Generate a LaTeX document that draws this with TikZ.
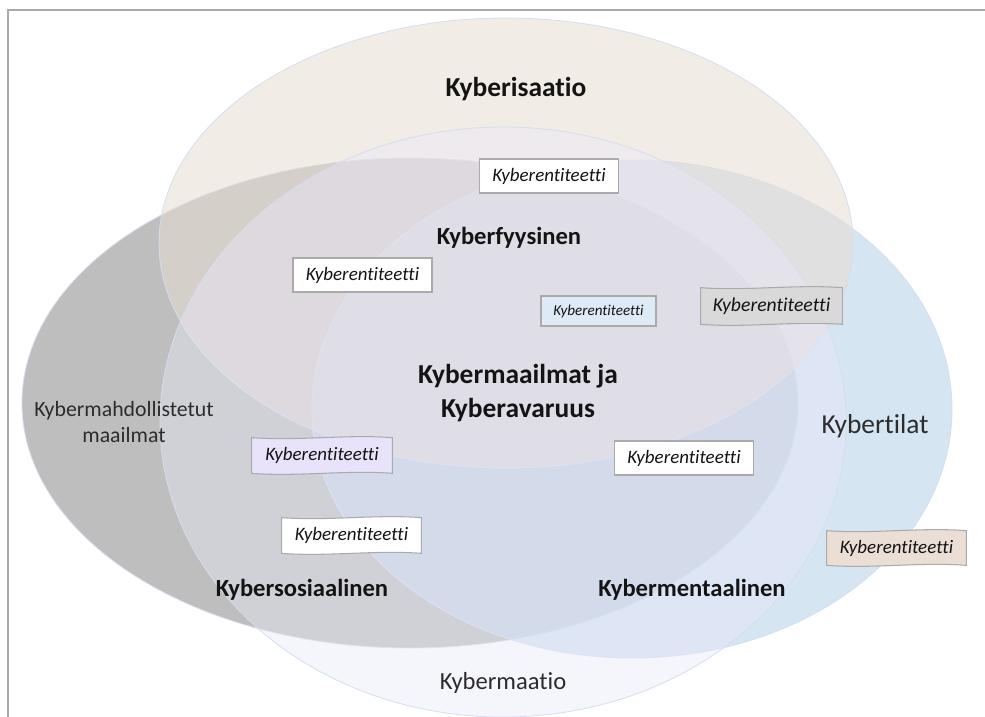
\documentclass[tikz,border=0pt]{standalone}
\usepackage{fontspec}
\setmainfont{Carlito}[Ligatures={NoCommon}]
\usetikzlibrary{calc}
\pgfdeclarelayer{back}
\pgfdeclarelayer{bg}
\pgfsetlayers{back,bg,main}
\definecolor{cA}{RGB}{233,221,210}
\definecolor{cB}{RGB}{190,190,190}
\definecolor{cC}{RGB}{198,219,238}
\definecolor{cD}{RGB}{234,232,250}
\definecolor{rim}{RGB}{212,222,240}
\definecolor{framec}{RGB}{170,170,170}
\definecolor{boxline}{RGB}{170,170,170}
\definecolor{fblue}{RGB}{222,235,247}
\definecolor{fgray}{RGB}{217,217,217}
\definecolor{fviolet}{RGB}{232,227,250}
\definecolor{ftan}{RGB}{234,222,213}
\definecolor{txt}{RGB}{20,20,20}
\newcommand{\wavebg}[2]{%
  \begin{pgfonlayer}{bg}
  \path[fill=#2, draw=boxline, line width=0.6pt]
    (#1.north west) .. controls ($(#1.north west)!0.33!(#1.north east)+(0,3.5)$) and ($(#1.north west)!0.67!(#1.north east)+(0,-3.5)$) .. (#1.north east)
    -- (#1.south east) .. controls ($(#1.south west)!0.67!(#1.south east)+(0,-3.5)$) and ($(#1.south west)!0.33!(#1.south east)+(0,3.5)$) .. (#1.south west)
    -- cycle;
  \end{pgfonlayer}}
\begin{document}
\begin{tikzpicture}[x=0.02cm,y=-0.02cm,
  ell/.style={draw=rim, line width=0.45pt},
  bigbold/.style={font=\bfseries\fontsize{15.6}{19.3}\selectfont, text=txt, align=center},
  midbold/.style={font=\bfseries\fontsize{14}{17}\selectfont, text=txt},
  plainlab/.style={text=txt!90, align=center},
  ent/.style={font=\itshape\fontsize{10.8}{13}\selectfont, text=txt, inner sep=0pt, minimum width=2.78cm, minimum height=0.68cm},
  flatbox/.style={ent, draw=boxline, fill=white, line width=0.6pt}]
\useasboundingbox (0,0) rectangle (985,717);
\begin{pgfonlayer}{back}
\fill[white] (0,0) rectangle (985,717);
% frame
\draw[framec, line width=0.9pt] (8,717) -- (8,10) -- (985,10);
% ellipses
\path[ell, fill=cB] (410,403) ellipse [x radius=388, y radius=245];
\path[ell, fill=cC, fill opacity=0.72] (632,409) ellipse [x radius=320, y radius=249];
\path[ell, fill=cA, fill opacity=0.554] (506,243) ellipse [x radius=347, y radius=225];
\path[ell, fill=cD, fill opacity=0.43] (503,422) ellipse [x radius=343, y radius=295];
\end{pgfonlayer}
% labels
\node[bigbold] (isaatio) at (516,89) {Kyberisaatio};
\node[midbold] (fyys) at (509,238) {Kyberfyysinen};
\node[bigbold] (maailmat) at (518,393) {Kybermaailmat ja\\Kyberavaruus};
\node[midbold] (sos) at (302,590) {Kybersosiaalinen};
\node[midbold] (ment) at (692,590) {Kybermentaalinen};
\node[plainlab, font=\fontsize{15.6}{19}\selectfont] (tilat) at (875,426) {Kybertilat};
\node[plainlab, font=\fontsize{12.4}{15.3}\selectfont] (mahd) at (124,422) {Kybermahdollistetut\\maailmat};
\node[plainlab, font=\fontsize{14}{17}\selectfont] (maatio) at (503,683) {Kybermaatio};
% entity boxes
\node[flatbox] (e1) at (549,176) {Kyberentiteetti};
\node[flatbox] (e2) at (362.5,275) {Kyberentiteetti};
\node[flatbox, fill=fblue, font=\itshape\fontsize{8.6}{10}\selectfont, minimum width=2.3cm, minimum height=0.6cm] (e3) at (598.5,311) {Kyberentiteetti};
\node[ent, minimum width=2.82cm, minimum height=0.72cm, font=\itshape\fontsize{11.2}{13}\selectfont] (e4) at (771.5,306) {Kyberentiteetti};
\wavebg{e4}{fgray}
\node[ent, minimum width=2.8cm, minimum height=0.7cm] (e5) at (322,455.5) {Kyberentiteetti};
\wavebg{e5}{fviolet}
\node[flatbox] (e6) at (684,458) {Kyberentiteetti};
\node[ent, minimum width=2.78cm, minimum height=0.7cm] (e7) at (351.5,535.5) {Kyberentiteetti};
\wavebg{e7}{white}
\node[ent] (e8) at (896.5,548) {Kyberentiteetti};
\wavebg{e8}{ftan}
\end{tikzpicture}
\end{document}
